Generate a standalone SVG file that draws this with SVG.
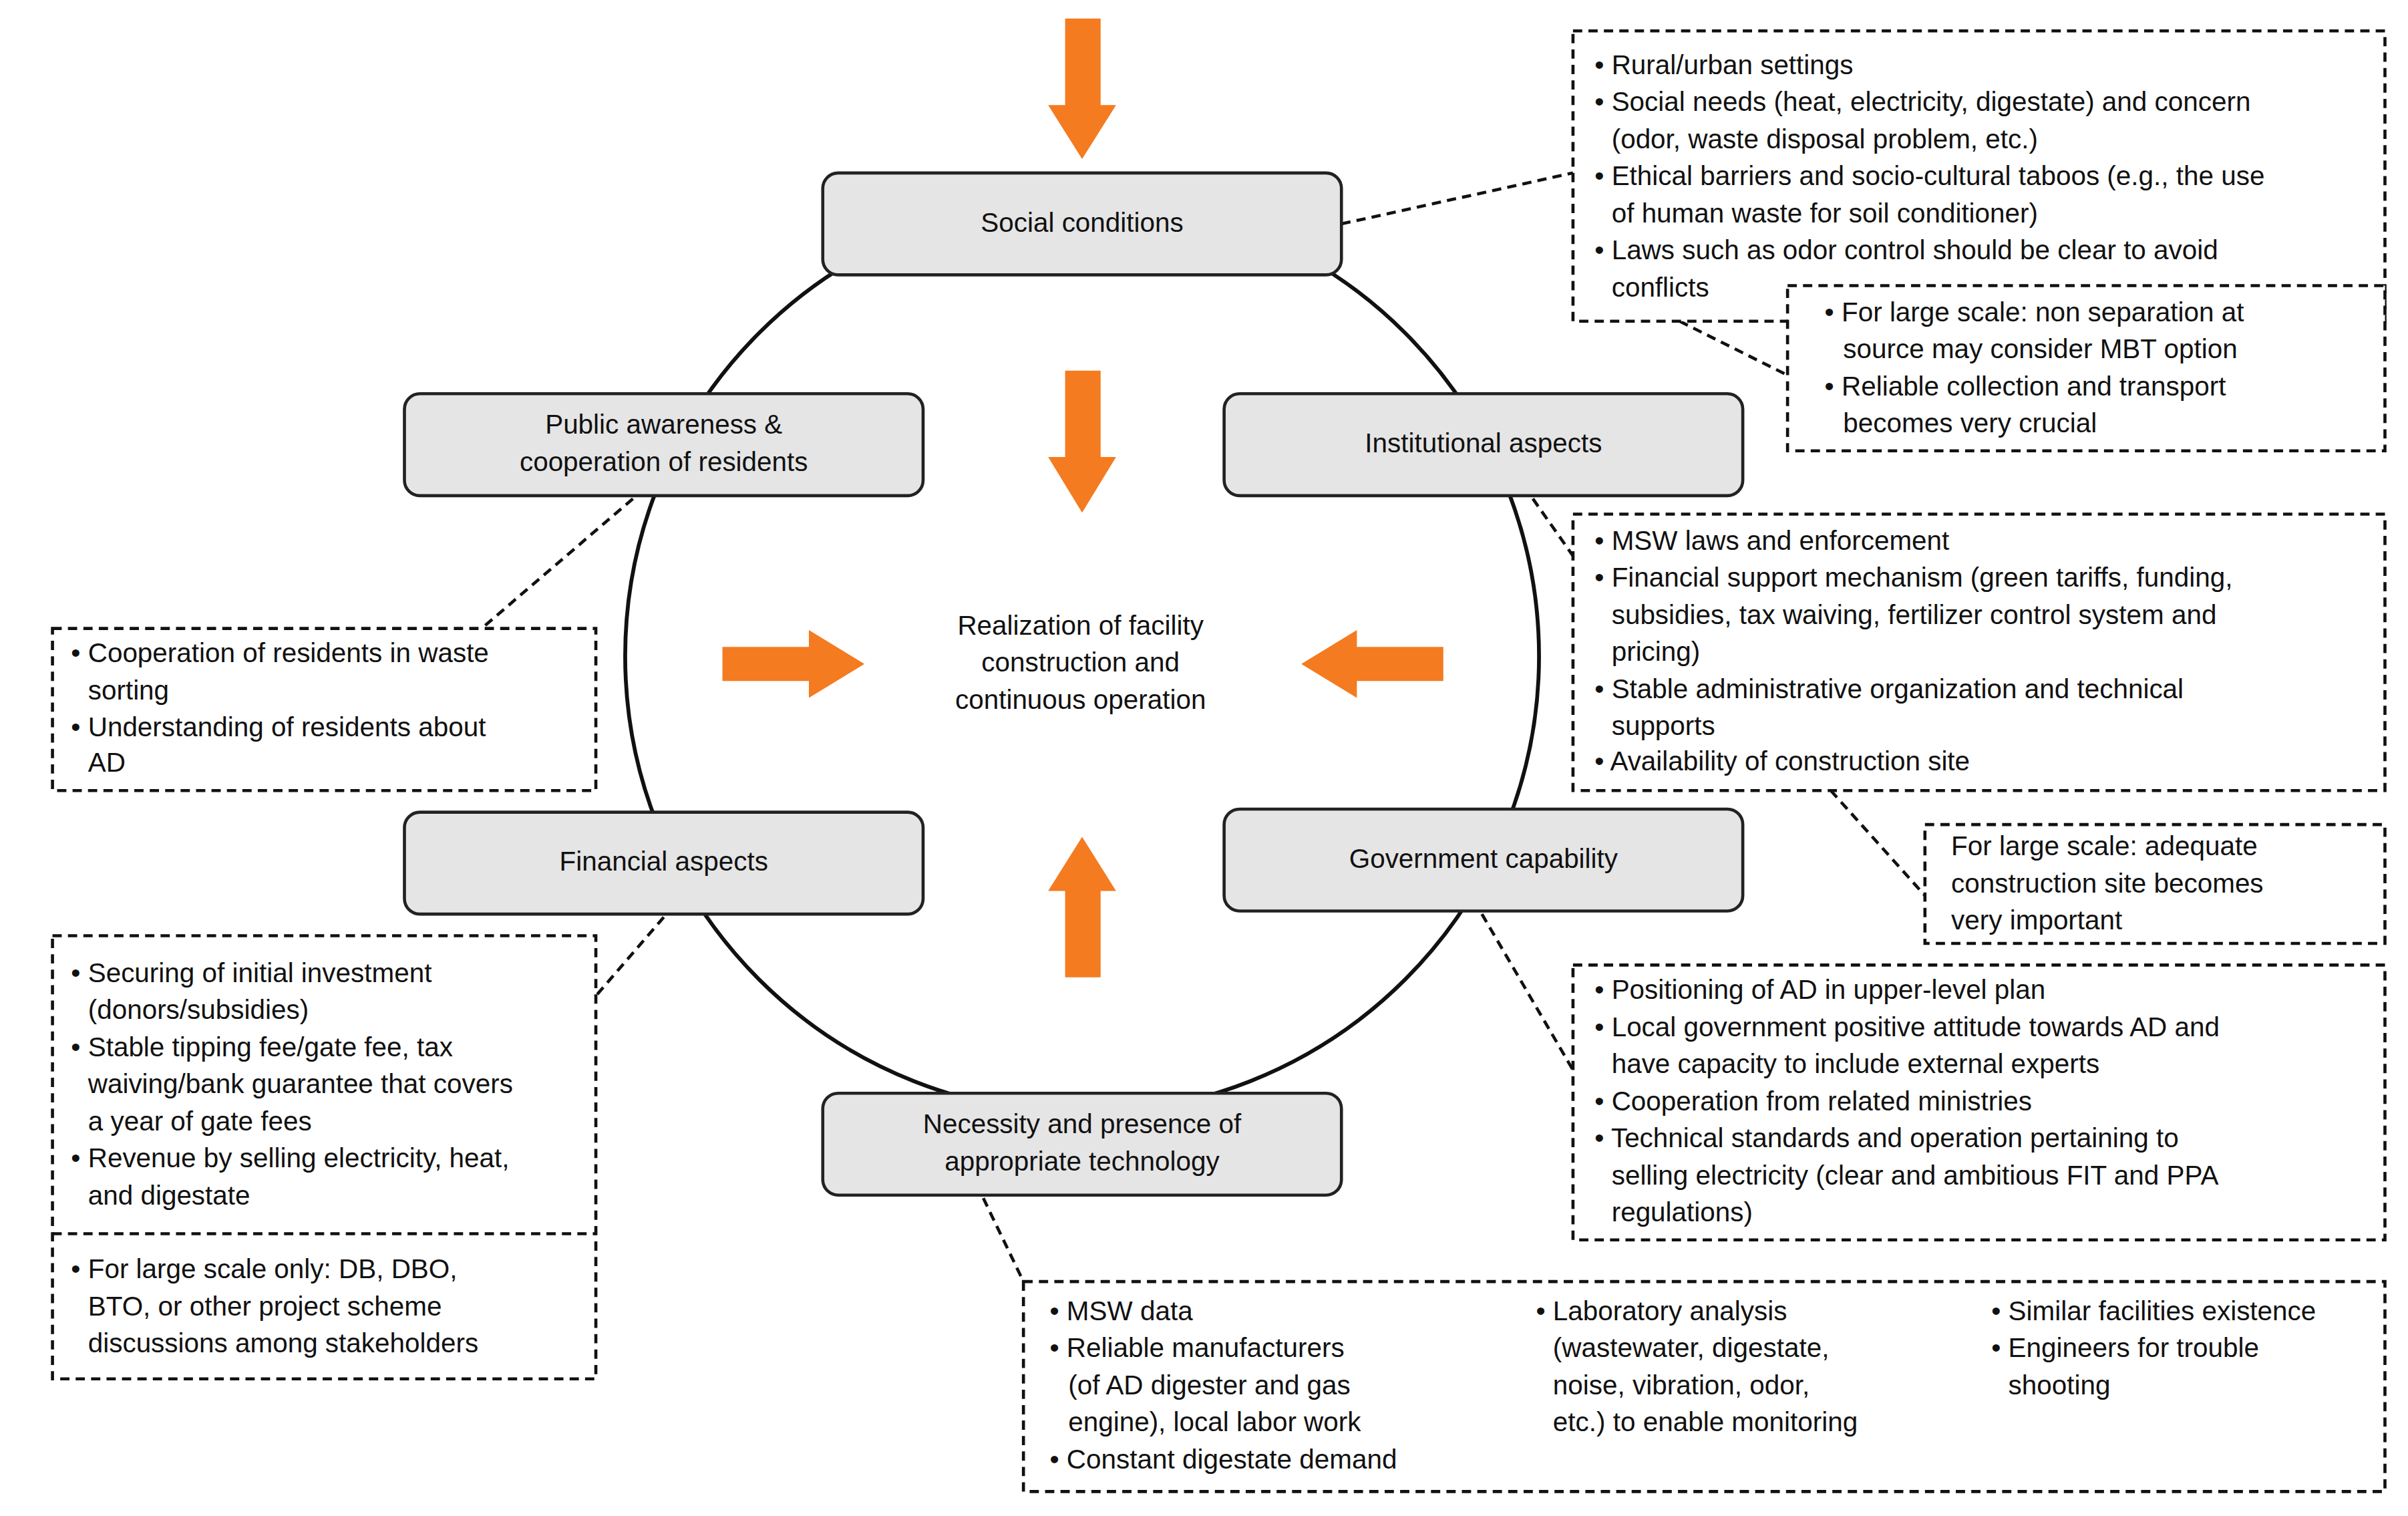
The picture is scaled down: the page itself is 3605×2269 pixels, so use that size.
<svg xmlns="http://www.w3.org/2000/svg" width="3605" height="2269" viewBox="0 0 3605 2269">
<style>
text{font-family:"Liberation Sans",Arial,sans-serif;font-size:17.5px;fill:#111}
.c{text-anchor:middle}
.n{fill:#e5e5e5;stroke:#222;stroke-width:2}
.d{fill:#fff;stroke:#111;stroke-width:2;stroke-dasharray:6 4}
.l{stroke:#111;stroke-width:2;stroke-dasharray:6 4;fill:none}
.a{fill:#F47B20}
</style>
<rect width="3605" height="2269" fill="#fff"/>
<g transform="scale(2.311)">
<circle cx="701" cy="425" r="296" fill="none" stroke="#111" stroke-width="2.5"/>
<g id="arrows">
<polygon class="a" points="690,12 713,12 713,68 723,68 701,103 679,68 690,68"/>
<polygon class="a" points="690,240 713,240 713,296 723,296 701,332 679,296 690,296"/>
<polygon class="a" points="690,633 713,633 713,577 723,577 701,542 679,577 690,577"/>
<polygon class="a" points="468,419 524,419 524,408 560,430 524,452 524,441 468,441"/>
<polygon class="a" points="935,419 879,419 879,408 843,430 879,452 879,441 935,441"/>
</g>
<g id="connectors">
<path class="l" d="M869,145 L1019,112 M1088,208 L1158,243 M993,323 L1019,360 M1186,512 L1247,580 M960,592 L1019,693 M637,776 L663,830 M410,323 L312,407 M430,594 L386,645"/>
</g>
<g id="center"><text class="c" x="700" y="411">Realization of facility</text><text class="c" x="700" y="435">construction and</text><text class="c" x="700" y="459">continuous operation</text></g>
<g id="social"><rect class="n" x="533" y="112" width="336" height="66" rx="10"/><text class="c" x="701" y="150">Social conditions</text></g>
<g id="public"><rect class="n" x="262" y="255" width="336" height="66" rx="10"/><text class="c" x="430" y="281">Public awareness &amp;</text><text class="c" x="430" y="305">cooperation of residents</text></g>
<g id="institutional"><rect class="n" x="793" y="255" width="336" height="66" rx="10"/><text class="c" x="961" y="293">Institutional aspects</text></g>
<g id="financial"><rect class="n" x="262" y="526" width="336" height="66" rx="10"/><text class="c" x="430" y="564">Financial aspects</text></g>
<g id="government"><rect class="n" x="793" y="524" width="336" height="66" rx="10"/><text class="c" x="961" y="562">Government capability</text></g>
<g id="necessity"><rect class="n" x="533" y="708" width="336" height="66" rx="10"/><text class="c" x="701" y="734">Necessity and presence of</text><text class="c" x="701" y="758">appropriate technology</text></g>
<g id="boxA"><rect class="d" x="1019" y="20" width="526" height="188"/>
<text x="1033" y="48">• Rural/urban settings</text>
<text x="1033" y="72">• Social needs (heat, electricity, digestate) and concern</text>
<text x="1044" y="96">(odor, waste disposal problem, etc.)</text>
<text x="1033" y="120">• Ethical barriers and socio-cultural taboos (e.g., the use</text>
<text x="1044" y="144">of human waste for soil conditioner)</text>
<text x="1033" y="168">• Laws such as odor control should be clear to avoid</text>
<text x="1044" y="192">conflicts</text></g>
<g id="boxB"><rect class="d" x="1158" y="185" width="387" height="107"/>
<text x="1182" y="208">• For large scale: non separation at</text>
<text x="1194" y="232">source may consider MBT option</text>
<text x="1182" y="256">• Reliable collection and transport</text>
<text x="1194" y="280">becomes very crucial</text></g>
<g id="boxC"><rect class="d" x="1019" y="333" width="526" height="179"/>
<text x="1033" y="356">• MSW laws and enforcement</text>
<text x="1033" y="380">• Financial support mechanism (green tariffs, funding,</text>
<text x="1044" y="404">subsidies, tax waiving, fertilizer control system and</text>
<text x="1044" y="428">pricing)</text>
<text x="1033" y="452">• Stable administrative organization and technical</text>
<text x="1044" y="476">supports</text>
<text x="1033" y="499">• Availability of construction site</text></g>
<g id="boxD"><rect class="d" x="1247" y="534" width="298" height="77"/>
<text x="1264" y="554">For large scale: adequate</text>
<text x="1264" y="578">construction site becomes</text>
<text x="1264" y="602">very important</text></g>
<g id="boxE"><rect class="d" x="1019" y="625" width="526" height="178"/>
<text x="1033" y="647">• Positioning of AD in upper-level plan</text>
<text x="1033" y="671">• Local government positive attitude towards AD and</text>
<text x="1044" y="695">have capacity to include external experts</text>
<text x="1033" y="719">• Cooperation from related ministries</text>
<text x="1033" y="743">• Technical standards and operation pertaining to</text>
<text x="1044" y="767">selling electricity (clear and ambitious FIT and PPA</text>
<text x="1044" y="791">regulations)</text></g>
<g id="boxF"><rect class="d" x="663" y="830" width="882" height="136"/>
<text x="680" y="855">• MSW data</text>
<text x="680" y="879">• Reliable manufacturers</text>
<text x="692" y="903">(of AD digester and gas</text>
<text x="692" y="927">engine), local labor work</text>
<text x="680" y="951">• Constant digestate demand</text>
<text x="995" y="855">• Laboratory analysis</text>
<text x="1006" y="879">(wastewater, digestate,</text>
<text x="1006" y="903">noise, vibration, odor,</text>
<text x="1006" y="927">etc.) to enable monitoring</text>
<text x="1290" y="855">• Similar facilities existence</text>
<text x="1290" y="879">• Engineers for trouble</text>
<text x="1301" y="903">shooting</text></g>
<g id="boxG"><rect class="d" x="34" y="407" width="352" height="105"/>
<text x="46" y="429">• Cooperation of residents in waste</text>
<text x="57" y="453">sorting</text>
<text x="46" y="477">• Understanding of residents about</text>
<text x="57" y="500">AD</text></g>
<g id="boxH"><rect class="d" x="34" y="606" width="352" height="287"/>
<line class="l" x1="34" y1="799" x2="386" y2="799"/>
<text x="46" y="636">• Securing of initial investment</text>
<text x="57" y="660">(donors/subsidies)</text>
<text x="46" y="684">• Stable tipping fee/gate fee, tax</text>
<text x="57" y="708">waiving/bank guarantee that covers</text>
<text x="57" y="732">a year of gate fees</text>
<text x="46" y="756">• Revenue by selling electricity, heat,</text>
<text x="57" y="780">and digestate</text>
<text x="46" y="828">• For large scale only: DB, DBO,</text>
<text x="57" y="852">BTO, or other project scheme</text>
<text x="57" y="876">discussions among stakeholders</text></g>
</g>
</svg>
